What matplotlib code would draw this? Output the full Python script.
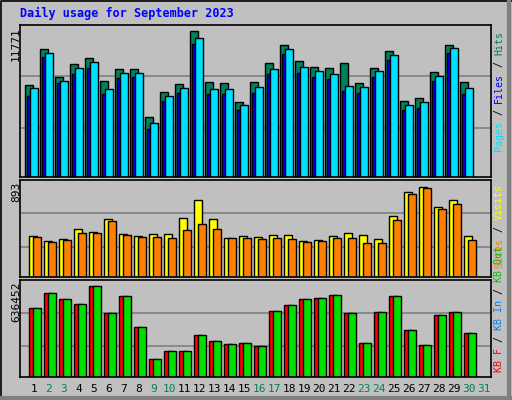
import matplotlib
matplotlib.use("Agg")
import matplotlib.pyplot as plt
import numpy as np

days = list(range(1, 32))
hits = [7417,10320,8062,9110,9594,7740,8707,8707,4837,6853,7498,11771,7659,7579,6047,7659,9191,10642,9352,8869,8788,9191,7579,8788,10159,6127,6369,8465,10642,7659]
files = [6500,9700,7600,8300,8800,6700,8000,8100,3900,6100,6800,10700,6700,6700,5400,6800,8300,9900,8400,8100,7900,6900,6800,8100,9400,5400,5600,7700,10000,6700]
pages = [7175,9998,7740,8788,9272,7095,8385,8385,4353,6531,7176,11207,7095,7095,5805,7256,8707,10320,8869,8547,8305,7337,7256,8546,9837,5805,6047,8143,10400,7175]
visits = [407,357,377,476,446,575,427,407,427,427,585,764,575,387,407,397,417,417,357,367,407,436,417,377,605,843,893,694,764,407]
sites = [397,347,367,436,436,556,417,397,397,387,466,526,476,387,387,377,387,377,347,357,387,387,337,337,565,823,883,675,724,367]
kbin = [482586,587496,545532,510562,636452,447616,566514,349700,125892,181844,181844,293748,251784,230802,237796,216814,461604,503568,545532,552526,573508,447616,237796,454610,566514,328718,223808,433628,454610,307736]
kbf = list(kbin)
weekends = [2,3,9,10,16,17,23,24,30,31]

W, H = 512, 400
fig = plt.figure(figsize=(5.12, 4.0), dpi=100, facecolor="#C0C0C0")
MONO = "DejaVu Sans Mono"

def ax_at(top, bottom, ymax):
    ax = fig.add_axes([20/W, 1-bottom/H, (491-20)/W, (bottom-top)/H])
    ax.set_facecolor("#C0C0C0")
    ax.set_xlim(1-14/15, 31+7/15)
    ax.set_ylim(0, ymax)
    ax.set_xticks([]); ax.set_yticks([])
    for s in ax.spines.values():
        s.set_color("black"); s.set_linewidth(1.2)
    return ax

px = 1/15.0
x = np.arange(1, 31)
bk = dict(edgecolor="black", linewidth=1.0, align="edge")

ax1 = ax_at(25, 177, 11771*152/146)
for f in (0.664, 0.322):
    ax1.axhline(ax1.get_ylim()[1]*f, color="#808080", lw=1.2, zorder=0)
ax1.bar(x-9*px, hits, 8*px, color="#00805C", **bk)
ax1.bar(x-7*px, files, 4*px, color="#0000FF", **bk)
ax1.bar(x-4*px, pages, 8*px, color="#00E0FF", **bk)

ax2 = ax_at(180, 277, 893*97/90)
for f in (0.66, 0.31):
    ax2.axhline(ax2.get_ylim()[1]*f, color="#808080", lw=1.2, zorder=0)
ax2.bar(x-5*px, visits, 8*px, color="#FFFF00", **bk)
ax2.bar(x-1*px, sites, 8*px, color="#FF8000", **bk)

ax3 = ax_at(280, 377, 636452*97/91)
for f in (0.66, 0.32):
    ax3.axhline(ax3.get_ylim()[1]*f, color="#808080", lw=1.2, zorder=0)
ax3.bar(x-5*px, kbf, 8*px, color="#FF0000", **bk)
ax3.bar(x-1*px, kbin, 8*px, color="#00E000", **bk)

fig.text(20/W, 1-17/H, "Daily usage for September 2023", color="#0000FF",
         fontsize=8.5, fontweight="bold", family=MONO, va="baseline")
for top, lab in ((27, "11771"), (182, "893"), (282, "636452")):
    fig.text(16/W, 1-top/H, lab, rotation=90, fontsize=8, family=MONO,
             ha="center", va="top", color="black")

for d in days:
    fig.text((34+(d-1)*15)/W, 1-389/H, str(d), fontsize=8, family=MONO,
             ha="center", va="center", color="#00805C" if d in weekends else "black")

def side(y_bottom, parts, fs=7.2):
    y = y_bottom
    cw = fs * 0.602 * 100 / 72  # mono advance in pixels
    for txt, col in parts:
        fig.text(499/W, 1-y/H, txt, rotation=90, fontsize=fs, family=MONO,
                 color=col, ha="center", va="bottom", rotation_mode="anchor" if False else "default")
        y -= cw*len(txt)

side(151, [("Pages", "#00E0FF"), (" / ", "black"), ("Files", "#0000FF"), (" / ", "black"), ("Hits", "#00805C")])
side(268, [("Sites", "#FF8000"), (" / ", "black"), ("Visits", "#FFFF00")])
side(372, [("KB F", "#FF0000"), (" / ", "black"), ("KB In", "#0080FF"), (" / ", "black"), ("KB Out", "#00C000")])

from matplotlib.lines import Line2D
fig.add_artist(Line2D([0.5/W, 0.5/W, 1-0.5/W], [0, 1-0.5/H, 1-0.5/H], color="black", lw=1.2, transform=fig.transFigure))
fig.add_artist(Line2D([1-3/W, 1-3/W], [0, 1], color="#808080", lw=3, transform=fig.transFigure))
fig.add_artist(Line2D([0, 1], [2/H, 2/H], color="#808080", lw=3, transform=fig.transFigure))

fig.savefig("out.png", dpi=100, facecolor=fig.get_facecolor())
